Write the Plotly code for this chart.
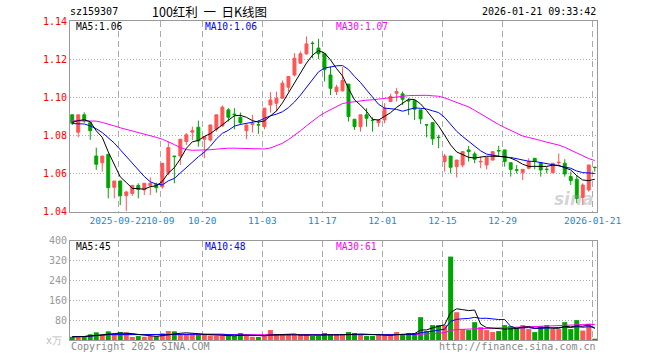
import plotly.graph_objects as go
import pandas as pd

# ---------------- data ----------------
month_days = {
    "2025-09": [10, 11, 12, 15, 16, 17, 18, 19, 22, 23, 24, 25, 26, 29, 30],
    "2025-10": [9, 10, 13, 14, 15, 16, 17, 20, 21, 22, 23, 24, 27, 28, 29, 30, 31],
    "2025-11": [3, 4, 5, 6, 7, 10, 11, 12, 13, 14, 17, 18, 19, 20, 21, 24, 25, 26, 27, 28],
    "2025-12": [1, 2, 3, 4, 5, 8, 9, 10, 11, 12, 15, 16, 17, 18, 19, 22, 23, 24, 25, 26, 29, 30, 31],
    "2026-01": [5, 6, 7, 8, 9, 12, 13, 14, 15, 16, 19, 20, 21],
}
dates = [f"{m}-{d:02d}" for m, ds in month_days.items() for d in ds]

open_ = [1.0908, 1.0817, 1.0908, 1.0867, 1.0692, 1.0657, 1.0701, 1.0528, 1.0561, 1.0484,
         1.0496, 1.0538, 1.0514, 1.0538, 1.0543, 1.0531, 1.0606, 1.0692, 1.0692, 1.0768,
         1.0817, 1.0843, 1.0780, 1.0776, 1.0832, 1.0850, 1.0934, 1.0912, 1.0895, 1.0825,
         1.0857, 1.0857, 1.0846, 1.0960, 1.0969, 1.0995, 1.1053, 1.1117, 1.1179, 1.1228,
         1.1284, 1.1258, 1.1228, 1.1117, 1.1030, 1.1034, 1.1069, 1.0885, 1.0846, 1.0908,
         1.0880, 1.0867, 1.0881, 1.0978, 1.1021, 1.1018, 1.0983, 1.0983, 1.0934, 1.0856,
         1.0867, 1.0791, 1.0663, 1.0692, 1.0636, 1.0645, 1.0724, 1.0703, 1.0661, 1.0645,
         1.0671, 1.0721, 1.0724, 1.0657, 1.0620, 1.0605, 1.0628, 1.0680, 1.0657, 1.0623,
         1.0605, 1.0657, 1.0654, 1.0584, 1.0570, 1.0475, 1.0514, 1.0633]
high = [1.0910, 1.0908, 1.0921, 1.0867, 1.0736, 1.0692, 1.0701, 1.0561, 1.0563, 1.0510,
        1.0538, 1.0549, 1.0549, 1.0580, 1.0552, 1.0654, 1.0768, 1.0692, 1.0780, 1.0812,
        1.0846, 1.0878, 1.0794, 1.0855, 1.0908, 1.0957, 1.0943, 1.0943, 1.0920, 1.0857,
        1.0908, 1.0881, 1.0943, 1.1027, 1.1030, 1.1088, 1.1109, 1.1231, 1.1240, 1.1319,
        1.1293, 1.1306, 1.1228, 1.1161, 1.1065, 1.1158, 1.1069, 1.0885, 1.0908, 1.0943,
        1.0895, 1.0885, 1.0969, 1.1018, 1.1048, 1.1030, 1.0995, 1.0983, 1.0934, 1.0856,
        1.0867, 1.0803, 1.0703, 1.0692, 1.0671, 1.0718, 1.0745, 1.0715, 1.0689, 1.0685,
        1.0715, 1.0745, 1.0724, 1.0657, 1.0645, 1.0622, 1.0680, 1.0680, 1.0657, 1.0636,
        1.0654, 1.0706, 1.0675, 1.0610, 1.0592, 1.0549, 1.0645, 1.0635]
low = [1.0855, 1.0790, 1.0866, 1.0777, 1.0619, 1.0610, 1.0470, 1.0470, 1.0435, 1.0404,
       1.0484, 1.0470, 1.0487, 1.0487, 1.0500, 1.0521, 1.0592, 1.0549, 1.0645, 1.0750,
       1.0776, 1.0741, 1.0680, 1.0768, 1.0820, 1.0845, 1.0873, 1.0832, 1.0855, 1.0780,
       1.0815, 1.0808, 1.0832, 1.0920, 1.0925, 1.0995, 1.1030, 1.1110, 1.1175, 1.1223,
       1.1205, 1.1200, 1.1083, 1.1012, 1.1012, 1.1030, 1.0873, 1.0829, 1.0820, 1.0846,
       1.0820, 1.0846, 1.0864, 1.0975, 1.0978, 1.0960, 1.0907, 1.0881, 1.0860, 1.0790,
       1.0750, 1.0733, 1.0610, 1.0601, 1.0580, 1.0633, 1.0663, 1.0654, 1.0628, 1.0622,
       1.0668, 1.0689, 1.0636, 1.0584, 1.0601, 1.0566, 1.0622, 1.0622, 1.0584, 1.0601,
       1.0601, 1.0645, 1.0584, 1.0540, 1.0444, 1.0435, 1.0505, 1.0610]
close = [1.0864, 1.0908, 1.0876, 1.0825, 1.0649, 1.0692, 1.0526, 1.0561, 1.0484, 1.0503,
         1.0538, 1.0517, 1.0549, 1.0549, 1.0526, 1.0654, 1.0736, 1.0689, 1.0780, 1.0803,
         1.0825, 1.0771, 1.0794, 1.0855, 1.0908, 1.0948, 1.0895, 1.0909, 1.0867, 1.0855,
         1.0862, 1.0855, 1.0943, 1.0986, 1.0995, 1.1074, 1.1109, 1.1205, 1.1228, 1.1280,
         1.1282, 1.1228, 1.1144, 1.1047, 1.1053, 1.1088, 1.0899, 1.0846, 1.0908, 1.0890,
         1.0878, 1.0881, 1.0943, 1.1004, 1.1030, 1.0990, 1.0981, 1.0937, 1.0887, 1.0855,
         1.0782, 1.0789, 1.0692, 1.0633, 1.0671, 1.0715, 1.0715, 1.0675, 1.0664, 1.0685,
         1.0715, 1.0719, 1.0663, 1.0622, 1.0618, 1.0622, 1.0663, 1.0663, 1.0619, 1.0621,
         1.0654, 1.0659, 1.0598, 1.0563, 1.0470, 1.0540, 1.0645, 1.0632]
volume = [13, 13, 16, 23, 31, 20, 35, 21, 32, 31,
          12, 16, 13, 17, 15, 27, 36, 35, 23, 23,
          23, 23, 20, 17, 17, 17, 17, 16, 28, 16,
          13, 12, 20, 40, 20, 20, 20, 20, 20, 24,
          16, 16, 28, 22, 20, 20, 32, 28, 20, 16,
          16, 20, 20, 20, 32, 20, 28, 28, 92, 36,
          60, 60, 60, 336, 112, 44, 40, 72, 52, 40,
          32, 36, 60, 56, 48, 60, 44, 32, 56, 60,
          44, 44, 72, 44, 80, 38, 66, 4]

# moving-average values for days whose window starts before the first candle
ma5_head = [1.0868, 1.0878, 1.0882, 1.0872]
ma10_head = [1.0862, 1.0862, 1.0860, 1.0850, 1.0835, 1.0815, 1.0790, 1.0760, 1.0725]
ma30_head = [1.0877, 1.0877, 1.0877, 1.0877, 1.0875, 1.0868, 1.0857, 1.0850, 1.0840, 1.0832,
             1.0825, 1.0818, 1.0808, 1.0800, 1.0790, 1.0780, 1.0768, 1.0752, 1.0736, 1.0726,
             1.0722, 1.0722, 1.0722, 1.0725, 1.0728, 1.0731, 1.0733, 1.0733, 1.0732]

tick_dates = ["2025-09-22", "2025-10-09", "2025-10-20", "2025-11-03", "2025-11-17",
              "2025-12-01", "2025-12-15", "2025-12-29", "2026-01-21"]
tick_text = ["2025-09-22", "10-09", "10-20", "11-03", "11-17", "12-01", "12-15", "12-29", "2026-01-21"]
price_ticks = [1.04, 1.06, 1.08, 1.10, 1.12, 1.14]
vol_ticks = [80, 160, 240, 320, 400]
ma_price_labels = ["MA5:1.06", "MA10:1.06", "MA30:1.07"]
ma_vol_labels = ["MA5:45", "MA10:48", "MA30:61"]

# ---------------- derived ----------------
idx = list(range(len(dates)))
cs = pd.Series(close)


def ma(series, n, head):
    m = series.rolling(n).mean().tolist()
    return list(head) + m[len(head):]


ma5 = ma(cs, 5, ma5_head)
ma10 = ma(cs, 10, ma10_head)
ma30 = ma(cs, 30, ma30_head)
vs = pd.Series(volume, dtype=float)
vma5 = vs.rolling(5, min_periods=1).mean()
vma10 = vs.rolling(10, min_periods=1).mean()
vma30 = vs.rolling(30, min_periods=1).mean()

RED = "#ff5555"
GREEN = "#00a600"
C_MA5, C_MA10, C_MA30 = "#000000", "#0000ff", "#ff00ff"
MONO = "DejaVu Sans Mono"
vol_colors = [RED if c >= o else GREEN for o, c in zip(open_, close)]

tickpos = [dates.index(d) - 0.35 for d in tick_dates]

fig = go.Figure()
fig.add_trace(go.Candlestick(
    x=idx, open=open_, high=high, low=low, close=close,
    increasing=dict(line=dict(color=RED, width=1), fillcolor=RED),
    decreasing=dict(line=dict(color=GREEN, width=1), fillcolor=GREEN),
    whiskerwidth=0, hoverinfo="skip", showlegend=False, xaxis="x", yaxis="y"))
for vals, col in [(ma30, C_MA30), (ma10, C_MA10), (ma5, C_MA5)]:
    fig.add_trace(go.Scatter(x=idx, y=vals, mode="lines", line=dict(color=col, width=1),
                             hoverinfo="skip", showlegend=False, xaxis="x", yaxis="y"))
fig.add_trace(go.Bar(x=idx, y=volume, marker=dict(color=vol_colors, line=dict(width=0)),
                     hoverinfo="skip", showlegend=False, xaxis="x2", yaxis="y2"))
for vals, col in [(vma30, C_MA30), (vma10, C_MA10), (vma5, C_MA5)]:
    fig.add_trace(go.Scatter(x=idx, y=vals, mode="lines", line=dict(color=col, width=1),
                             hoverinfo="skip", showlegend=False, xaxis="x2", yaxis="y2"))

L, R, T, B = 70, 63, 21, 20
W, H = 660, 360
pw, ph = W - L - R, H - T - B


def px(x):
    return (x - L) / pw


def py(y):
    return (H - B - y) / ph


main_dom = [py(211.7), 1]
vol_dom = [0, py(240.7)]
xr = [-0.37, len(dates) - 1 + 0.37]
GRID = "#aaaaaa"
FRAME = "#999999"

common_x = dict(range=xr, tickmode="array", tickvals=tickpos, showgrid=True, gridcolor=GRID,
                griddash="6px,4px", gridwidth=1, zeroline=False, showline=True, linecolor=FRAME,
                linewidth=1, mirror=True, ticks="", fixedrange=True, tickangle=0)
fig.update_layout(
    width=W, height=H, margin=dict(l=L, r=R, t=T, b=B),
    paper_bgcolor="white", plot_bgcolor="white",
    font=dict(family=MONO, size=10, color="#000"),
    boxgap=0.3, bargap=0.17, showlegend=False, hovermode=False,
    xaxis=dict(common_x, domain=[0, 1], anchor="y", ticktext=tick_text,
               tickfont=dict(family=MONO, size=9.5, color="#1a87d6"), rangeslider=dict(visible=False)),
    xaxis2=dict(common_x, domain=[0, 1], anchor="y2", ticktext=[""] * len(tickpos), showticklabels=False),
    yaxis=dict(domain=main_dom, range=[price_ticks[0], price_ticks[-1]], tickmode="array",
               tickvals=price_ticks, ticktext=[f"{v:.2f}" for v in price_ticks],
               tickfont=dict(family=MONO, size=10, color="#ff0000"),
               showgrid=True, gridcolor=GRID, griddash="1px,2px", zeroline=False,
               showline=True, linecolor=FRAME, mirror=True, ticks="", fixedrange=True),
    yaxis2=dict(domain=vol_dom, range=[0, 400], tickmode="array", tickvals=vol_ticks,
                ticktext=[str(v) for v in vol_ticks],
                tickfont=dict(family=MONO, size=10, color="#999999"),
                showgrid=True, gridcolor=GRID, griddash="1px,2px", zeroline=False,
                showline=True, linecolor=FRAME, mirror=True, ticks="", fixedrange=True),
)

ann = []


def text(x, y, s, color="#000", anchor="left", size=10, family=MONO):
    ann.append(dict(x=px(x), y=py(y), xref="paper", yref="paper", text=s, showarrow=False,
                    xanchor=anchor, yanchor="middle", font=dict(family=family, size=size, color=color)))


text(68, 12, "sz159307")
text(209, 11.5, "100红利\u00a0\u00a0一\u00a0\u00a0日K线图", anchor="center", size=12.5,
     family="Noto Sans CJK SC")
text(598, 12, "2026-01-21 09:33:42", anchor="right")
for s, x, c in zip(ma_price_labels, [74, 203, 334], [C_MA5, C_MA10, C_MA30]):
    text(x, 27, s, color=c, size=9.6)
for s, x, c in zip(ma_vol_labels, [74, 203, 334], [C_MA5, C_MA10, C_MA30]):
    text(x, 246.5, s, color=c, size=9.6)
text(64, 341, "x万", color="#bbbbbb", anchor="right")
text(69, 346, "Copyright 2026 SINA.COM", color="#888888")
text(598, 346, "http://finance.sina.com.cn", color="#888888", anchor="right")
text(596, 199, "<b><i>sina</i></b>", color="rgba(160,160,160,0.45)", anchor="right", size=17,
     family="DejaVu Sans")
fig.update_layout(annotations=ann)

fig.write_html("out.html")
